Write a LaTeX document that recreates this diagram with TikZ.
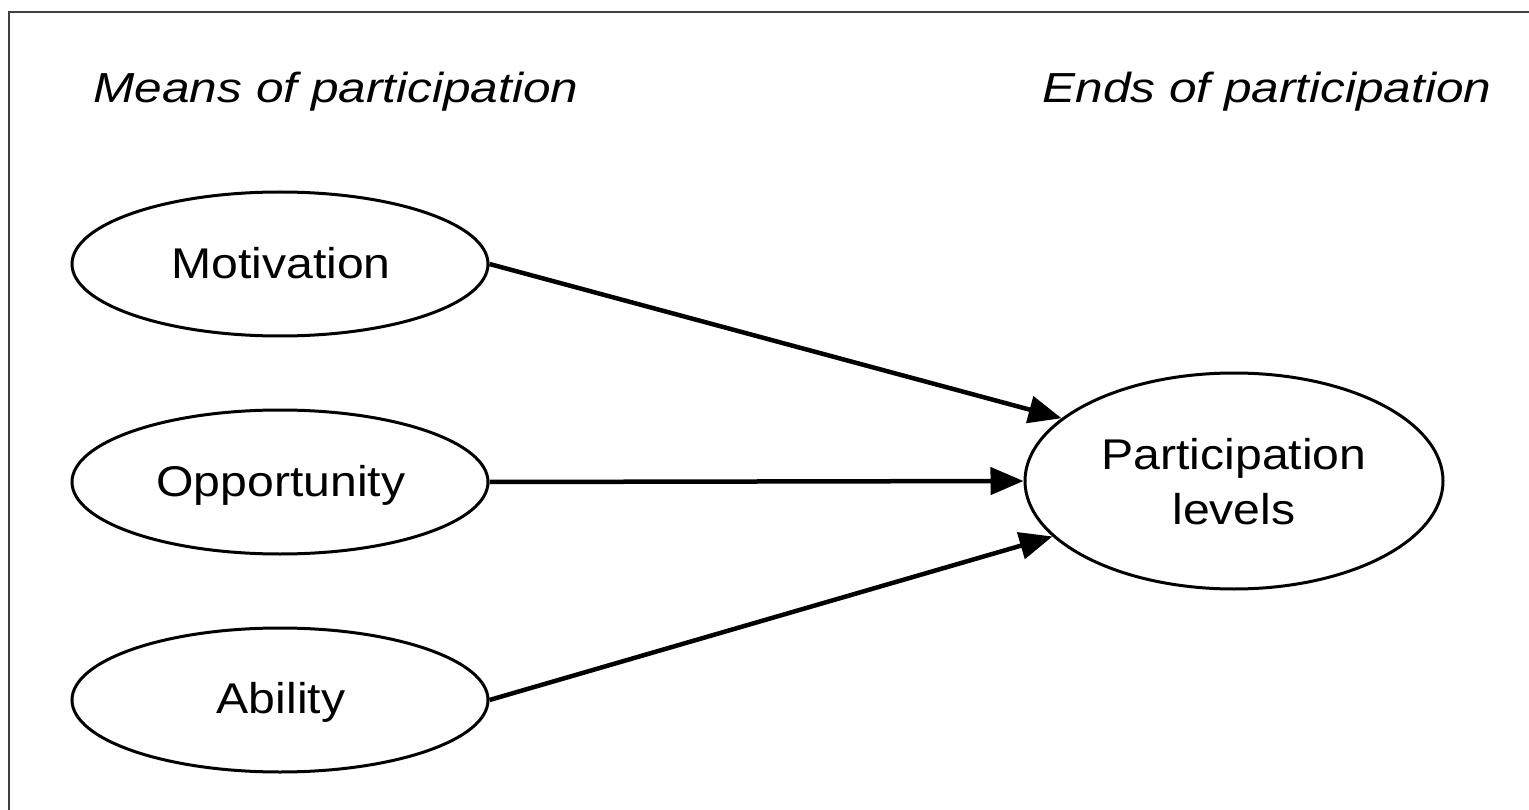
\documentclass[tikz,border=0pt]{standalone}
\usepackage{fontspec}
\usetikzlibrary{arrows.meta,shapes.geometric}
\newfontfamily\nodefont[FakeStretch=1.12]{Liberation Sans}
\newfontfamily\headfont[FakeStretch=1.18]{Liberation Sans}
\begin{document}
\begin{tikzpicture}[x=1pt,y=-1pt,
  ell/.style={draw=black,ellipse,line width=3pt,inner sep=0pt,minimum width=416pt,minimum height=144pt},
  bigell/.style={draw=black,ellipse,line width=3pt,inner sep=0pt,minimum width=418pt,minimum height=216pt},
  txt/.style={font=\nodefont\fontsize{43}{52}\selectfont,inner sep=0pt,text height=31pt,text depth=0pt},
  head/.style={font=\headfont\itshape\fontsize{42}{50}\selectfont,inner sep=0pt,anchor=base},
  arr/.style={line width=4.5pt,-{Triangle[length=33pt,width=27pt]}},
  frame/.style={draw=black!75,line width=2pt}]
\useasboundingbox (0,0) rectangle (1529,810);
\fill[white] (0,0) rectangle (1529,810);
\coordinate (fTR) at (1529,12);
\coordinate (fTL) at (9,12);
\coordinate (fBL) at (9,810);
\draw[frame] (fTR) -- (fTL) -- (fBL);
\node[head] (hmeans) at (336,103) {Means of participation};
\node[head] (hends) at (1267,103) {Ends of participation};
\node[ell] (m) at (280,264) {};
\node[txt] (mt) at (281,263) {Motivation};
\node[ell] (o) at (280,482) {};
\node[txt] (ot) at (281,481) {Opportunity};
\node[ell] (a) at (280,700) {};
\node[txt] (at) at (281,698) {Ability};
\node[bigell] (p) at (1234,481) {};
\node[txt] (p1) at (1234,454) {Participation};
\node[txt] (p2) at (1234,509) {levels};
\draw[arr] (m.east) -- (p.160.5);
\draw[arr] (o.east) -- (p.west);
\draw[arr] (a.east) -- (p.197.4);
\end{tikzpicture}
\end{document}
